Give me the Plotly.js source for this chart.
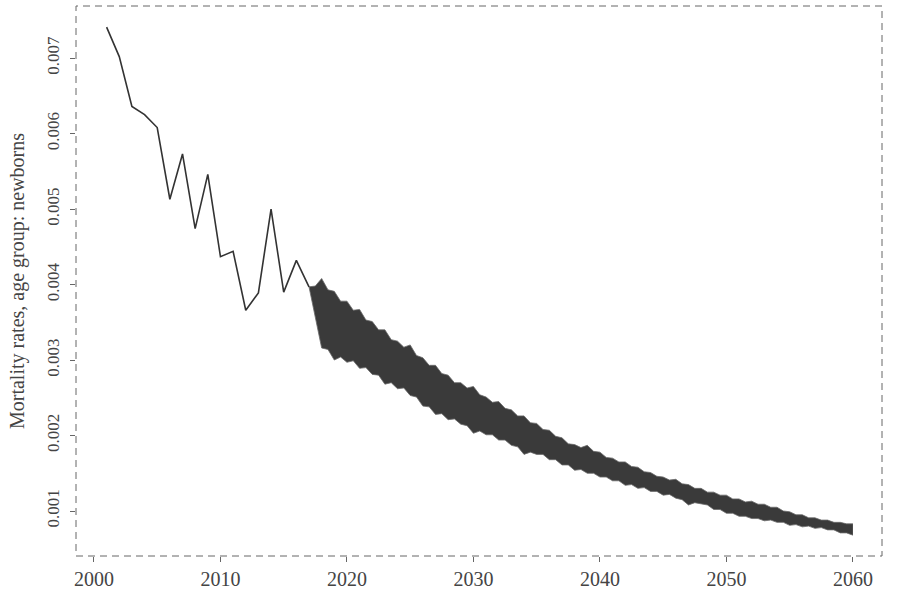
<!DOCTYPE html>
<html>
<head>
<meta charset="utf-8">
<script src="https://cdn.plot.ly/plotly-3.0.1.min.js"></script>
<style>html,body{margin:0;padding:0;background:#fff;}#chart{width:900px;height:598px;}</style>
</head>
<body>
<div id="chart"></div>
<script>
// Historical mortality rates (newborns)
var histYears = [2001,2002,2003,2004,2005,2006,2007,2008,2009,2010,2011,2012,2013,2014,2015,2016,2017];
var histValues = [0.00741,0.00702,0.00636,0.00625,0.00608,0.00513,0.00573,0.00474,0.00546,0.00437,0.00444,0.00366,0.00389,0.00500,0.00390,0.00432,0.00397];

// Simulated fan of projected paths: envelope at whole years (peaks / troughs)
var fanYears = [2017,2018,2019,2020,2021,2022,2023,2024,2025,2026,2027,2028,2029,2030,2031,2032,2033,2034,2035,2036,2037,2038,2039,2040,2041,2042,2043,2044,2045,2046,2047,2048,2049,2050,2051,2052,2053,2054,2055,2056,2057,2058,2059,2060];
var fanUpper = [0.00397,0.00408,0.00391,0.00378,0.00367,0.00351,0.00340,0.00325,0.00320,0.00303,0.00293,0.00280,0.00270,0.00265,0.00251,0.00245,0.00234,0.00226,0.00216,0.00207,0.00197,0.00188,0.00187,0.00178,0.00170,0.00165,0.00158,0.00151,0.00145,0.00142,0.00135,0.00130,0.00125,0.00121,0.00116,0.00113,0.00109,0.00105,0.00099,0.00095,0.00091,0.00088,0.00085,0.00083];
var fanLower = [0.00397,0.00316,0.00300,0.00297,0.00289,0.00281,0.00268,0.00262,0.00253,0.00239,0.00228,0.00221,0.00215,0.00203,0.00201,0.00194,0.00187,0.00175,0.00175,0.00168,0.00161,0.00154,0.00150,0.00145,0.00140,0.00134,0.00130,0.00126,0.00121,0.00117,0.00108,0.00109,0.00102,0.00097,0.00093,0.00090,0.00087,0.00085,0.00081,0.00079,0.00077,0.00075,0.00071,0.00068];
// Envelope between the years (notches of the serrated edges), at 2017.5 ... 2059.5
var fanUpperMid = [0.00398,0.00393,0.00378,0.00366,0.00353,0.00340,0.00327,0.00317,0.00306,0.00293,0.00282,0.00270,0.00263,0.00254,0.00244,0.00236,0.00226,0.00217,0.00208,0.00199,0.00189,0.00184,0.00179,0.00171,0.00165,0.00159,0.00152,0.00146,0.00141,0.00136,0.00130,0.00125,0.00121,0.00116,0.00112,0.00109,0.00105,0.00100,0.00095,0.00091,0.00088,0.00085,0.00083];
var fanLowerMid = [0.00356,0.00314,0.00304,0.00299,0.00290,0.00280,0.00270,0.00263,0.00251,0.00238,0.00229,0.00222,0.00213,0.00206,0.00201,0.00194,0.00185,0.00178,0.00175,0.00168,0.00161,0.00155,0.00150,0.00145,0.00140,0.00135,0.00131,0.00126,0.00122,0.00115,0.00111,0.00108,0.00102,0.00097,0.00093,0.00090,0.00088,0.00085,0.00082,0.00080,0.00078,0.00075,0.00071];

var xTicks = [2000,2010,2020,2030,2040,2050,2060];
var yTicks = [0.001,0.002,0.003,0.004,0.005,0.006,0.007];
var yTitle = "Mortality rates, age group: newborns";

function interleave(whole, mid) {
  var xs = [], ys = [];
  for (var i = 0; i < fanYears.length; i++) {
    xs.push(fanYears[i]); ys.push(whole[i]);
    if (i < mid.length) { xs.push(fanYears[i] + 0.5); ys.push(mid[i]); }
  }
  return {x: xs, y: ys};
}
var lowEdge = interleave(fanLower, fanLowerMid);
var upEdge = interleave(fanUpper, fanUpperMid);

var traces = [
  {x: lowEdge.x, y: lowEdge.y, mode: 'lines', line: {color: '#6a6a6a', width: 0.8}, hoverinfo: 'skip'},
  {x: upEdge.x, y: upEdge.y, mode: 'lines', fill: 'tonexty', fillcolor: '#3a3a3a', line: {color: '#6a6a6a', width: 0.8}, hoverinfo: 'skip'},
  {x: histYears, y: histValues, mode: 'lines', line: {color: '#333', width: 1.6}, hoverinfo: 'skip'}
];

var serif = '"Liberation Serif", "DejaVu Serif", serif';

var layout = {
  width: 900, height: 598,
  paper_bgcolor: '#fff', plot_bgcolor: '#fff',
  showlegend: false,
  margin: {l: 76, r: 18, t: 6, b: 42},
  xaxis: {
    range: [1998.58, 2062.3], tickvals: xTicks, ticktext: xTicks.map(String),
    ticks: 'outside', ticklen: 5, tickcolor: '#666', tickwidth: 1,
    showgrid: false, zeroline: false, showline: false,
    tickfont: {family: serif, size: 20, color: '#444'}
  },
  yaxis: {
    range: [0.000404, 0.00769], tickvals: yTicks, ticktext: yTicks.map(function(v){return v.toFixed(3);}),
    ticks: 'outside', ticklen: 5, tickcolor: '#666', tickwidth: 1, tickangle: -90,
    ticklabelstandoff: 4,
    showgrid: false, zeroline: false, showline: false,
    tickfont: {family: serif, size: 17, color: '#444'},
    title: {text: yTitle, font: {family: serif, size: 20, color: '#444'}, standoff: 14}
  },
  shapes: [{type: 'rect', xref: 'paper', yref: 'paper', x0: 0, x1: 1, y0: 0, y1: 1,
            line: {color: '#666', width: 1, dash: '7px,5px'}}]
};

Plotly.newPlot('chart', traces, layout, {displayModeBar: false, staticPlot: true});
</script>
</body>
</html>
